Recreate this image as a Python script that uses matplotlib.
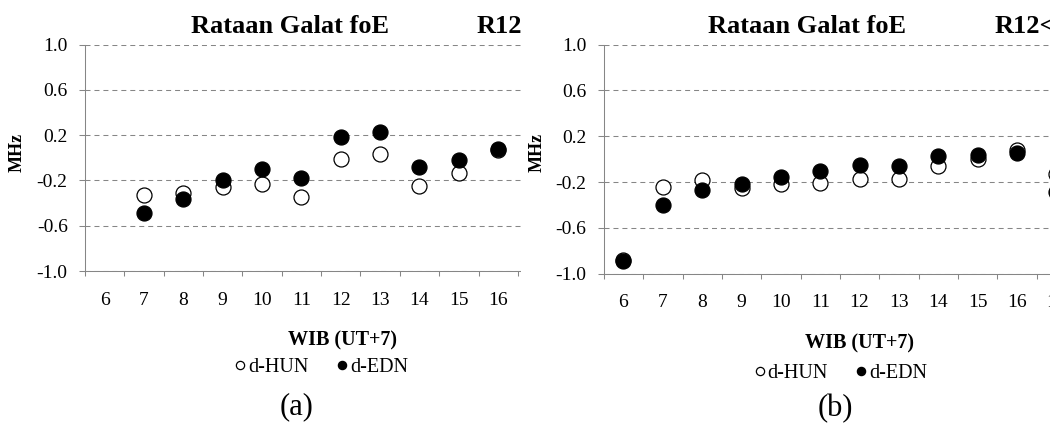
import matplotlib
matplotlib.use('Agg')
import matplotlib.pyplot as plt
from matplotlib.patches import Rectangle
from matplotlib.ticker import FixedLocator

# figure size in pixels
W, H = 1050, 424

# panel (a): mean foE error, hours WIB
hours_a = [7, 8, 9, 10, 11, 12, 13, 14, 15, 16]
hun_a = [-0.33, -0.31, -0.26, -0.23, -0.35, -0.01, 0.03, -0.25, -0.13, 0.07]
edn_a = [-0.49, -0.36, -0.20, -0.10, -0.18, 0.18, 0.23, -0.08, -0.02, 0.08]

# panel (b)
hours_b = [6, 7, 8, 9, 10, 11, 12, 13, 14, 15, 16, 17]
hun_b = [-0.88, -0.24, -0.18, -0.25, -0.22, -0.21, -0.17, -0.17, -0.06, 0.00, 0.08, -0.13]
edn_b = [-0.89, -0.40, -0.27, -0.22, -0.16, -0.10, -0.05, -0.06, 0.03, 0.04, 0.05, -0.29]

hour_ticks = list(range(6, 19))
y_ticks = [-1.0, -0.6, -0.2, 0.2, 0.6, 1.0]
y_labels = ['-1.0', '-0.6', '-0.2', '0.2', '0.6', '1.0']

plt.rcParams['font.family'] = ['Liberation Serif', 'DejaVu Serif']
GRAY = '#868686'
CAT_W = 39.35  # px per category


def fx(px):
    return px / W


def fy(py):
    return 1 - py / H


fig = plt.figure(figsize=(W / 100, H / 100), dpi=100)


def panel(left, top, bottom, hours, hun, edn, z):
    ax = fig.add_axes([fx(left), fy(bottom), 13 * CAT_W / W, (bottom - top) / H], zorder=z)
    ax.plot(hours, hun, 'o', ms=10.8, mfc='white', mec='black', mew=0.9, label='d-HUN')
    ax.plot(hours, edn, 'o', ms=10.8, mfc='black', mec='black', mew=0.9, label='d-EDN')

    ax.set_xlim(5.5, 18.5)
    ax.set_ylim(-1.0, 1.0)
    ax.set_xticks(hour_ticks)
    ax.set_xticklabels([str(h) for h in hour_ticks])
    ax.xaxis.set_minor_locator(FixedLocator([h - 0.5 for h in hour_ticks] + [18.5]))
    ax.set_yticks(y_ticks)
    ax.set_yticklabels(y_labels)

    ax.tick_params(axis='x', which='major', length=0, pad=15, labelsize=14)
    ax.tick_params(axis='x', which='minor', length=3.6, width=0.75, color=GRAY, direction='out')
    ax.tick_params(axis='y', length=4.5, width=0.75, color=GRAY, pad=8, labelsize=14)

    ax.set_axisbelow(True)
    ax.yaxis.grid(True, color=GRAY, linestyle=(0, (4.8, 3.8)), linewidth=0.75)
    for s in ['top', 'right']:
        ax.spines[s].set_visible(False)
    for s in ['left', 'bottom']:
        ax.spines[s].set_color(GRAY)
        ax.spines[s].set_linewidth(0.75)
    return ax


ax1 = panel(85, 44.6, 271, hours_a, hun_a, edn_a, 0)
ax2 = panel(603.8, 44.6, 273.6, hours_b, hun_b, edn_b, 2)

# white strip hides the part of panel (a) that runs under panel (b)
fig.add_artist(Rectangle((fx(521), 0), 1 - fx(521), 1, transform=fig.transFigure,
                         facecolor='white', edgecolor='none', zorder=1))

# titles, axis labels and legends, placed in pixel terms
for ax, t1, t2, r12, xl, yb, lx, ly, ylx in [
        (ax1, 191, 477, 'R12>50', 342.5, 345.3, 321.5, 367, 25.5),
        (ax2, 707.5, 995, 'R12<50', 859.5, 348.6, 841, 373, 545.5)]:
    ax.text(fx(t1), fy(33), 'Rataan Galat foE', transform=fig.transFigure,
            fontsize=19, fontweight='bold', ha='left', va='baseline')
    ax.text(fx(t2), fy(33), r12, transform=fig.transFigure,
            fontsize=19, fontweight='bold', ha='left', va='baseline')
    ax.text(fx(xl), fy(yb), 'WIB (UT+7)', transform=fig.transFigure,
            fontsize=14.5, fontweight='bold', ha='center', va='baseline')
    ax.text(fx(ylx), fy(152), 'MHz', transform=fig.transFigure, rotation=90,
            fontsize=13, fontweight='bold', ha='right', va='center')
    ax.legend(loc='center', bbox_to_anchor=(fx(lx), fy(ly)), bbox_transform=fig.transFigure,
              ncol=2, frameon=False, fontsize=14.5, markerscale=0.55,
              handlelength=0.5, handletextpad=0.15, columnspacing=1.4)

fig.text(fx(297), fy(407), '(a)', fontsize=22, ha='center', va='center')
fig.text(fx(835), fy(409), '(b)', fontsize=22, ha='center', va='center')

fig.savefig('out.png', dpi=100, facecolor='white')
